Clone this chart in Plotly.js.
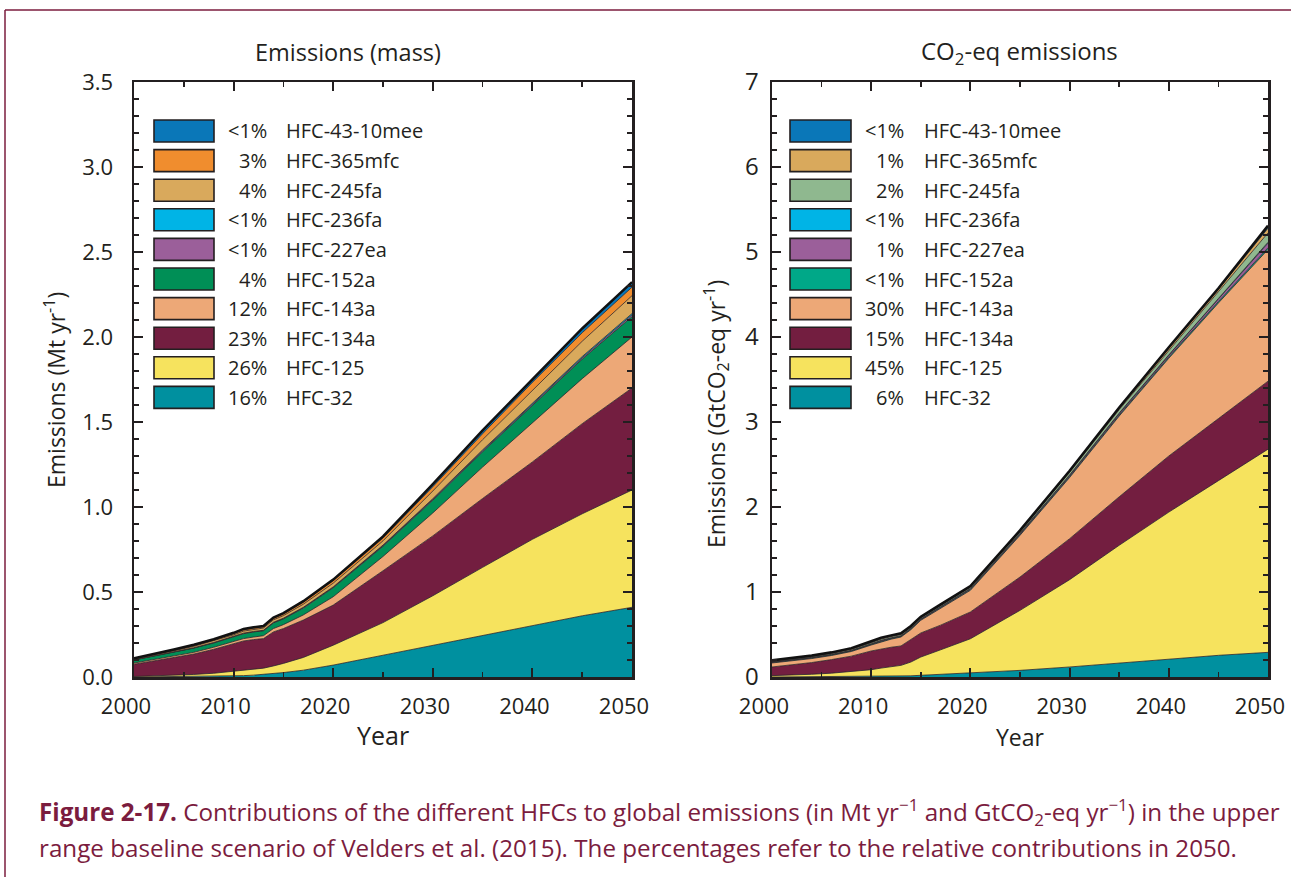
<!DOCTYPE html>
<html>
<head>
<meta charset="utf-8">
<script src="https://cdn.plot.ly/plotly-3.0.1.min.js"></script>
<style>html,body{margin:0;padding:0;background:#fff;}#chart{width:1291px;height:877px;}</style>
</head>
<body>
<div id="chart"></div>
<script>
// ---------------- DATA ----------------
const years = [2000,2002,2004,2006,2008,2010,2011,2012,2013,2014,2015,2017,2020,2025,2030,2035,2040,2045,2050];

// Emissions (mass), Mt/yr
const massHFC32     = [0,0.001,0.002,0.003,0.004,0.006,0.008,0.011,0.015,0.020,0.026,0.040,0.070,0.128,0.187,0.246,0.305,0.360,0.410];
const massHFC125    = [0.003,0.005,0.008,0.012,0.018,0.029,0.032,0.034,0.037,0.045,0.054,0.075,0.117,0.192,0.291,0.399,0.505,0.600,0.690];
const massHFC134a   = [0.072,0.089,0.105,0.120,0.141,0.160,0.172,0.175,0.174,0.200,0.205,0.220,0.236,0.305,0.352,0.405,0.455,0.530,0.600];
const massHFC143a   = [0.007,0.008,0.009,0.010,0.012,0.013,0.014,0.015,0.017,0.020,0.023,0.030,0.049,0.084,0.135,0.185,0.230,0.265,0.300];
const massHFC152a   = [0.018,0.019,0.021,0.025,0.025,0.027,0.029,0.030,0.029,0.033,0.034,0.040,0.053,0.060,0.075,0.090,0.105,0.115,0.120];
const massHFC227ea  = [0.001,0.001,0.001,0.001,0.002,0.002,0.002,0.002,0.002,0.002,0.002,0.003,0.003,0.004,0.005,0.006,0.007,0.008,0.010];
const massHFC236fa  = [0.001,0.001,0.001,0.001,0.001,0.001,0.001,0.001,0.001,0.002,0.002,0.002,0.002,0.003,0.004,0.005,0.006,0.007,0.008];
const massHFC245fa  = [0.004,0.005,0.007,0.008,0.009,0.010,0.012,0.012,0.013,0.014,0.015,0.018,0.022,0.025,0.045,0.060,0.075,0.090,0.105];
const massHFC365mfc = [0.002,0.003,0.004,0.005,0.006,0.007,0.008,0.008,0.008,0.009,0.010,0.012,0.014,0.016,0.025,0.035,0.045,0.050,0.050];
const massHFC4310   = [0.002,0.003,0.004,0.005,0.004,0.005,0.005,0.004,0.004,0.005,0.005,0.006,0.007,0.010,0.015,0.020,0.020,0.025,0.030];

// CO2-eq emissions, GtCO2-eq/yr
const co2HFC32     = [0,0.001,0.002,0.003,0.003,0.004,0.006,0.008,0.010,0.014,0.020,0.030,0.047,0.078,0.118,0.165,0.216,0.255,0.290];
const co2HFC125    = [0.016,0.021,0.030,0.042,0.059,0.082,0.099,0.112,0.127,0.162,0.215,0.290,0.403,0.706,1.027,1.385,1.724,2.055,2.390];
const co2HFC134a   = [0.102,0.118,0.138,0.160,0.183,0.220,0.225,0.230,0.228,0.264,0.283,0.290,0.315,0.392,0.482,0.570,0.660,0.730,0.800];
const co2HFC143a   = [0.047,0.048,0.047,0.048,0.055,0.070,0.085,0.095,0.105,0.117,0.149,0.200,0.255,0.491,0.720,0.950,1.150,1.360,1.550];
const co2HFC152a   = [0.007,0.007,0.008,0.008,0.008,0.008,0.008,0.008,0.008,0.008,0.008,0.008,0.010,0.010,0.012,0.013,0.015,0.017,0.020];
const co2HFC227ea  = [0.004,0.004,0.004,0.004,0.004,0.005,0.006,0.006,0.006,0.006,0.006,0.007,0.008,0.011,0.014,0.017,0.020,0.030,0.055];
const co2HFC236fa  = [0.002,0.002,0.002,0.002,0.002,0.002,0.002,0.002,0.002,0.003,0.003,0.003,0.004,0.004,0.004,0.005,0.005,0.006,0.010];
const co2HFC245fa  = [0.007,0.008,0.009,0.010,0.011,0.012,0.014,0.014,0.014,0.011,0.011,0.012,0.013,0.016,0.030,0.040,0.055,0.080,0.110];
const co2HFC365mfc = [0.005,0.005,0.005,0.005,0.006,0.007,0.007,0.007,0.007,0.007,0.006,0.007,0.007,0.008,0.010,0.013,0.020,0.025,0.055];
const co2HFC4310   = [0.006,0.006,0.007,0.008,0.009,0.011,0.011,0.008,0.008,0.008,0.009,0.008,0.008,0.009,0.010,0.012,0.015,0.015,0.030];

// Species (bottom to top of stack)
const species    = ["HFC-32","HFC-125","HFC-134a","HFC-143a","HFC-152a","HFC-227ea","HFC-236fa","HFC-245fa","HFC-365mfc","HFC-43-10mee"];
const pctMass    = ["16%","26%","23%","12%","4%","<1%","<1%","4%","3%","<1%"];
const pctCO2     = ["6%","45%","15%","30%","<1%","1%","<1%","2%","1%","<1%"];
const colorsMass = ["#00909f","#f6e35e","#731e40","#eda877","#008f56","#9b5f9a","#00b4e6","#d9a95c","#f08d2e","#0a77b8"];
const colorsCO2  = ["#00909f","#f6e35e","#731e40","#eda877","#00a888","#9b5f9a","#00b4e6","#8fb88f","#d9a95c","#0a77b8"];

const massSeries = [massHFC32,massHFC125,massHFC134a,massHFC143a,massHFC152a,massHFC227ea,massHFC236fa,massHFC245fa,massHFC365mfc,massHFC4310];
const co2Series  = [co2HFC32,co2HFC125,co2HFC134a,co2HFC143a,co2HFC152a,co2HFC227ea,co2HFC236fa,co2HFC245fa,co2HFC365mfc,co2HFC4310];

// ---------------- LAYOUT HELPERS ----------------
const W = 1291, H = 877;
const px = x => x / W;
const py = y => 1 - y / H;
const INK = "#231f20";
const MAROON = "#7b1c3e";
const FONT = "Open Sans, Noto Sans, sans-serif";

const traces = [];
function addStack(series, colors, xa, ya, grp) {
  series.forEach((vals, i) => {
    const top = i === series.length - 1;
    traces.push({
      x: years, y: vals, xaxis: xa, yaxis: ya,
      type: "scatter", mode: "lines", stackgroup: grp,
      name: species[i],
      line: {color: top ? "#111" : "#2a2224", width: top ? 2.5 : 0.8},
      fillcolor: colors[i],
      hoverinfo: "skip", showlegend: false
    });
  });
}
addStack(massSeries, colorsMass, "x", "y", "mass");
addStack(co2Series, colorsCO2, "x2", "y2", "co2");

const yDom = [py(677), py(82)];
function xAxis(domain, fontSize) {
  return {
    domain: domain, range: [2000, 2050], dtick: 10, tick0: 2000,
    showgrid: false, zeroline: false, showline: true, mirror: "ticks",
    linecolor: INK, linewidth: 2.5, ticks: "inside", ticklen: 9, tickwidth: 2, tickcolor: INK,
    minor: {ticks: "inside", dtick: 5, ticklen: 5, tickwidth: 1.5, tickcolor: INK, showgrid: false},
    tickfont: {family: FONT, size: fontSize, color: INK}, ticklabelstandoff: 8,
    ticklabelshift: -8, ticklabeloverflow: "allow", fixedrange: true
  };
}
function yAxis(anchor, range, dtick, minorDtick, fmt, fontSize, standoff) {
  return {
    domain: yDom, anchor: anchor, range: range, dtick: dtick, tick0: 0, tickformat: fmt,
    showgrid: false, zeroline: false, showline: true, mirror: "ticks",
    linecolor: INK, linewidth: 2.5, ticks: "inside", ticklen: 9, tickwidth: 2, tickcolor: INK,
    minor: {ticks: "inside", dtick: minorDtick, ticklen: 5, tickwidth: 1.5, tickcolor: INK, showgrid: false},
    tickfont: {family: FONT, size: fontSize, color: INK}, ticklabelstandoff: standoff,
    ticklabeloverflow: "allow", fixedrange: true
  };
}

const shapes = [
  {type: "line", xref: "paper", yref: "paper", x0: px(5), x1: 1, y0: py(10), y1: py(10), line: {color: MAROON, width: 1.5}},
  {type: "line", xref: "paper", yref: "paper", x0: px(5), x1: px(5), y0: py(10), y1: 0, line: {color: MAROON, width: 1.5}}
];
const annotations = [];

function addLegend(pcts, colors, boxX0, boxX1, pctRight, nameLeft) {
  for (let r = 0; r < species.length; r++) {
    const i = species.length - 1 - r;  // top row = last in stack
    const yc = 131 + r * 29.6;
    shapes.push({type: "rect", xref: "paper", yref: "paper",
      x0: px(boxX0), x1: px(boxX1), y0: py(yc + 11), y1: py(yc - 11),
      fillcolor: colors[i], line: {color: INK, width: 1.6}});
    annotations.push({xref: "paper", yref: "paper", x: px(pctRight), y: py(yc), xanchor: "right", yanchor: "middle",
      text: pcts[i], showarrow: false, font: {family: FONT, size: 20, color: INK}});
    annotations.push({xref: "paper", yref: "paper", x: px(nameLeft), y: py(yc), xanchor: "left", yanchor: "middle",
      text: species[i], showarrow: false, font: {family: FONT, size: 20, color: INK}});
  }
}
addLegend(pctMass, colorsMass, 154, 214, 269, 284);
addLegend(pctCO2, colorsCO2, 790, 851, 906, 922);

const txt = (x, y, text, size, opts) => Object.assign({xref: "paper", yref: "paper", x: px(x), y: py(y),
  xanchor: "center", yanchor: "middle", text: text, showarrow: false,
  font: {family: FONT, size: size, color: INK}}, opts || {});

annotations.push(txt(348, 52, "Emissions (mass)", 23.5));
annotations.push(txt(1019, 52, "CO<sub>2</sub>-eq emissions", 24));
annotations.push(txt(383, 735, "Year", 25));
annotations.push(txt(1020, 737, "Year", 23));
annotations.push(txt(55, 390, "Emissions (Mt yr<sup>-1</sup>)", 23, {textangle: -90}));
annotations.push(txt(716, 414, "Emissions (GtCO<sub>2</sub>-eq yr<sup>-1</sup>)", 23, {textangle: -90}));

annotations.push({xref: "paper", yref: "paper", x: px(37), y: py(812), xanchor: "left", yanchor: "middle", showarrow: false,
  text: "<b>Figure 2-17.</b> Contributions of the different HFCs to global emissions (in Mt yr<sup>−1</sup> and GtCO<sub>2</sub>-eq yr<sup>−1</sup>) in the upper",
  font: {family: FONT, size: 24.2, color: MAROON}});
annotations.push({xref: "paper", yref: "paper", x: px(37), y: py(847), xanchor: "left", yanchor: "middle", showarrow: false,
  text: "range baseline scenario of Velders et al. (2015). The percentages refer to the relative contributions in 2050.",
  font: {family: FONT, size: 24.2, color: MAROON}});

const layout = {
  width: W, height: H, margin: {l: 0, r: 0, t: 0, b: 0},
  paper_bgcolor: "#fff", plot_bgcolor: "rgba(0,0,0,0)", showlegend: false,
  xaxis: xAxis([px(134), px(632)], 22),
  yaxis: yAxis("x", [0, 3.5], 0.5, 0.1, ".1f", 22, 14),
  xaxis2: xAxis([px(772), px(1268)], 22),
  yaxis2: yAxis("x2", [0, 7], 1, 0.2, "d", 24, 6),
  shapes: shapes, annotations: annotations
};
layout.xaxis.anchor = "y";
layout.xaxis2.anchor = "y2";

Plotly.newPlot("chart", traces, layout, {staticPlot: true, displayModeBar: false});
</script>
</body>
</html>
